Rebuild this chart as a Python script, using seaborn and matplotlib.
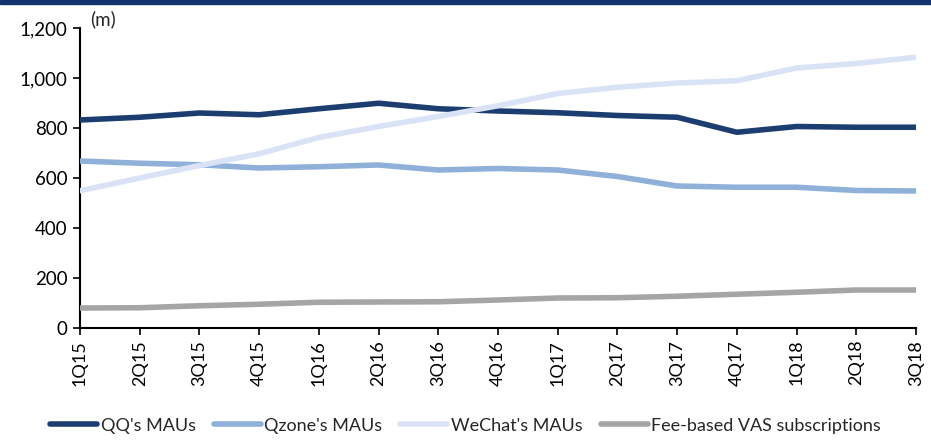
import matplotlib
matplotlib.use("Agg")
import matplotlib.pyplot as plt
import matplotlib.ticker as mticker
import seaborn as sns
import pandas as pd

quarters = ["1Q15", "2Q15", "3Q15", "4Q15", "1Q16", "2Q16", "3Q16", "4Q16",
            "1Q17", "2Q17", "3Q17", "4Q17", "1Q18", "2Q18", "3Q18"]
qq_mau = [832, 843, 860, 853, 877, 899, 877, 868, 861, 850, 843, 783, 806, 803, 803]
qzone_mau = [668, 659, 653, 640, 645, 652, 632, 638, 632, 606, 568, 563, 563, 550, 548]
wechat_mau = [549, 600, 650, 697, 762, 806, 846, 889, 938, 963, 980, 989, 1040, 1058, 1083]
vas_subs = [80, 81, 89, 95, 103, 104, 105, 112, 120, 121, 127, 135, 143, 152, 152]

series_names = ["QQ's MAUs", "Qzone's MAUs", "WeChat's MAUs", "Fee-based VAS subscriptions"]
colors = ["#1B3D6F", "#8FB0D8", "#DAE3F6", "#A5A5A5"]

rows = []
for name, vals in zip(series_names, [qq_mau, qzone_mau, wechat_mau, vas_subs]):
    for i, (q, v) in enumerate(zip(quarters, vals)):
        rows.append({"idx": i, "quarter": q, "value": v, "series": name})
df = pd.DataFrame(rows)

sns.set_style("white")
plt.rcParams["font.family"] = ["Lato", "DejaVu Sans"]

fig = plt.figure(figsize=(9.31, 4.41), dpi=100)
ax = fig.add_axes([80 / 931, (441 - 328) / 441, (916 - 80) / 931, 300 / 441])

sns.lineplot(data=df, x="idx", y="value", hue="series", hue_order=series_names,
             palette=colors, linewidth=4.0, ax=ax, legend=True, zorder=3)

ax.set_xlim(0, len(quarters) - 1)
ax.set_ylim(0, 1200)
ax.set_xticks(range(len(quarters)))
ax.set_xticklabels(quarters, rotation=90, fontsize=13)
ax.yaxis.set_major_locator(mticker.MultipleLocator(200))
ax.yaxis.set_major_formatter(mticker.FuncFormatter(lambda v, p: f"{int(v):,}"))
ax.tick_params(axis="y", labelsize=13.5, direction="out", length=5, width=1.2, left=True,
               colors="black", pad=4)
ax.tick_params(axis="x", direction="out", length=5, width=1.2, bottom=True, colors="black")
ax.set_xlabel("")
ax.set_ylabel("")
for s in ["top", "right"]:
    ax.spines[s].set_visible(False)
for s in ["left", "bottom"]:
    ax.spines[s].set_color("black")
    ax.spines[s].set_linewidth(1.5)
ax.grid(False)

ax.text(0.012, 1.0, "(m)", transform=ax.transAxes, fontsize=13.5, va="bottom", ha="left")

ax.get_legend().remove()
handles, labels = ax.get_legend_handles_labels()
for h in handles:
    h.set_linewidth(4.0)
fig.legend(handles, labels, loc="lower center", bbox_to_anchor=(0.5, -0.02), ncol=4,
           frameon=False, fontsize=13, handlelength=2.6, columnspacing=1.0, handletextpad=0.2)

# top dark band
fig.patches.append(plt.Rectangle((0, 437 / 441), 1, 4 / 441, transform=fig.transFigure,
                                 color="#14336E", zorder=10))

fig.savefig("out.png", dpi=100)
